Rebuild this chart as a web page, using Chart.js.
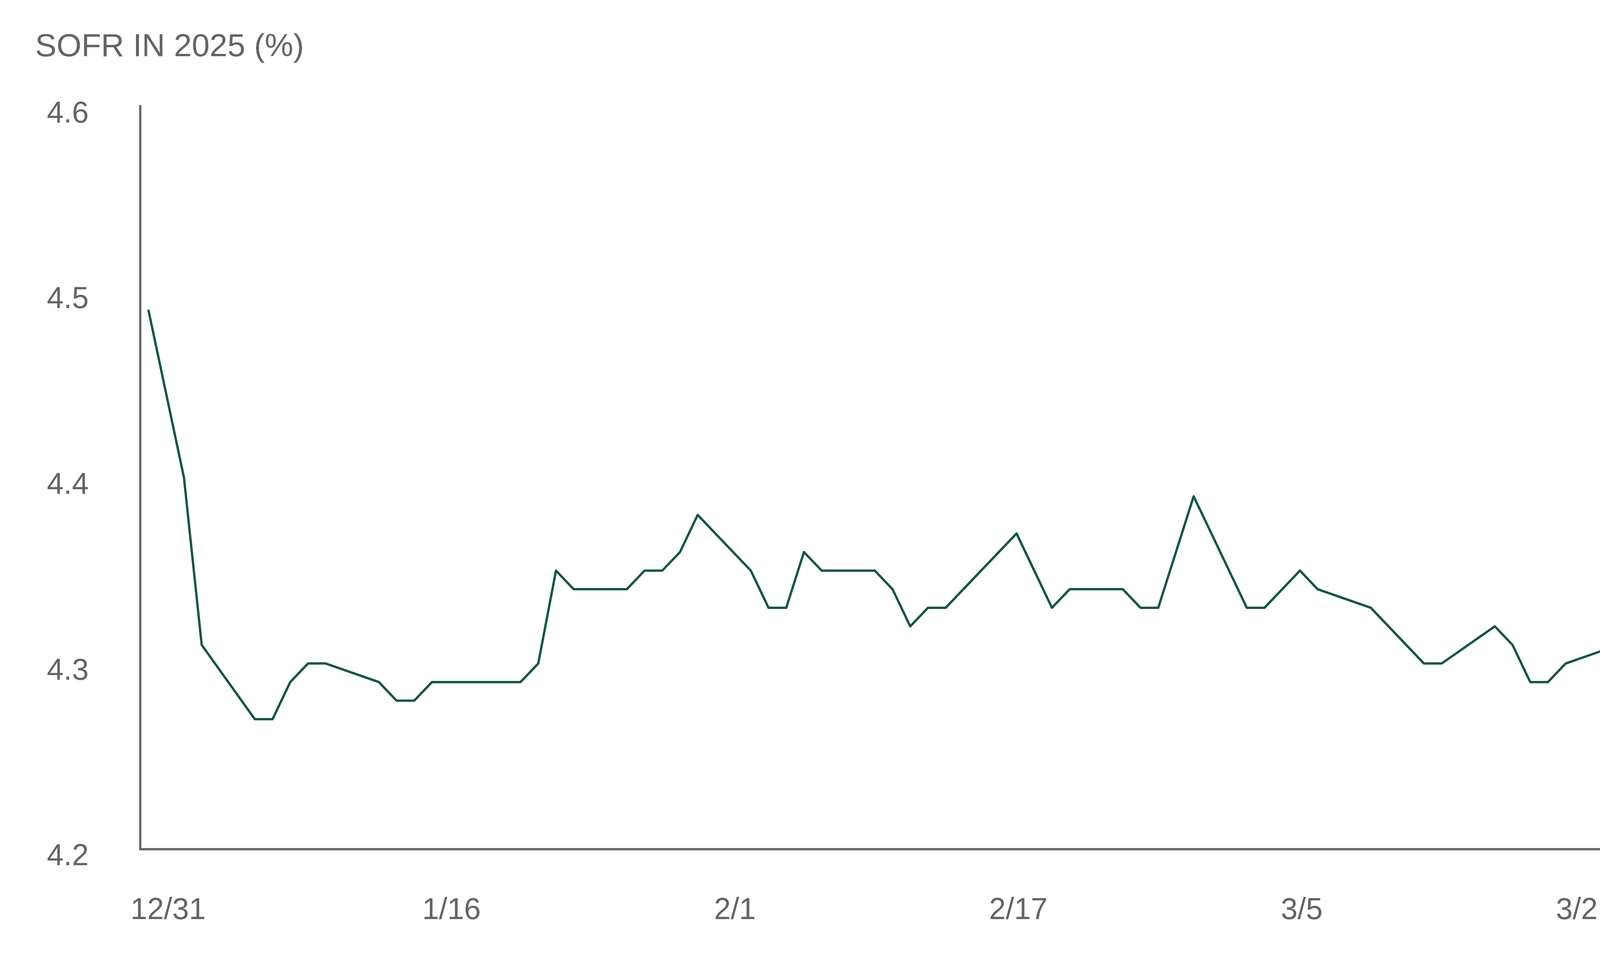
<!DOCTYPE html>
<html>
<head>
<meta charset="utf-8">
<script src="https://cdn.jsdelivr.net/npm/chart.js@4.4.1/dist/chart.umd.min.js"></script>
<style>
  html, body { margin: 0; padding: 0; background: #ffffff; }
  #wrap { width: 6244px; height: 2510px; position: relative; }
</style>
</head>
<body>
<div id="wrap"><canvas id="c"></canvas></div>
<script>
// ---- Data ----
const titleText = 'SOFR IN 2025 (%)';
const dates = [
  '2024-12-31','2025-01-02','2025-01-03','2025-01-06','2025-01-07','2025-01-08','2025-01-09','2025-01-10',
  '2025-01-13','2025-01-14','2025-01-15','2025-01-16','2025-01-17','2025-01-21','2025-01-22','2025-01-23',
  '2025-01-24','2025-01-27','2025-01-28','2025-01-29','2025-01-30','2025-01-31','2025-02-03','2025-02-04',
  '2025-02-05','2025-02-06','2025-02-07','2025-02-10','2025-02-11','2025-02-12','2025-02-13','2025-02-14',
  '2025-02-18','2025-02-20','2025-02-21','2025-02-24','2025-02-25','2025-02-26','2025-02-28','2025-03-03',
  '2025-03-04','2025-03-06','2025-03-07','2025-03-10','2025-03-13','2025-03-14','2025-03-17','2025-03-18',
  '2025-03-19','2025-03-20','2025-03-21','2025-03-24','2025-03-26','2025-03-27','2025-03-28','2025-03-31',
  '2025-04-02','2025-04-03','2025-04-04','2025-04-07','2025-04-08'
];
const sofr = [
  4.49,4.40,4.31,4.27,4.27,4.29,4.30,4.30,
  4.29,4.28,4.28,4.29,4.29,4.29,4.30,4.35,
  4.34,4.34,4.35,4.35,4.36,4.38,4.35,4.33,
  4.33,4.36,4.35,4.35,4.34,4.32,4.33,4.33,
  4.37,4.33,4.34,4.34,4.33,4.33,4.39,4.33,
  4.33,4.35,4.34,4.33,4.30,4.30,4.32,4.31,
  4.29,4.29,4.30,4.31,4.35,4.36,4.34,4.41,
  4.37,4.39,4.35,4.33,4.40
];
const tickDates = ['2024-12-31','2025-01-16','2025-02-01','2025-02-17','2025-03-05','2025-03-21','2025-04-06'];
const tickLabels = ['12/31','1/16','2/1','2/17','3/5','3/21','4/6'];
const yTicks = [4.2, 4.3, 4.4, 4.5, 4.6];

// ---- helpers ----
const DAY = 86400000;
const base = Date.UTC(2024, 11, 31);
function dayNum(s) {
  const p = s.split('-').map(Number);
  return (Date.UTC(p[0], p[1] - 1, p[2]) - base) / DAY;
}
const points = dates.map((d, i) => ({ x: dayNum(d), y: sofr[i] }));
const tickDays = tickDates.map(dayNum);

const GRAY = '#636466';
const AXIS = '#6a6a6a';
const FONT = '"Liberation Sans", Arial, sans-serif';

new Chart(document.getElementById('c'), {
  type: 'line',
  data: {
    datasets: [{
      data: points,
      borderColor: '#13573f',
      borderWidth: 6,
      pointRadius: 0,
      pointHoverRadius: 0,
      tension: 0,
      fill: false,
      borderJoinStyle: 'round',
      borderCapStyle: 'round'
    }]
  },
  options: {
    responsive: true,
    maintainAspectRatio: false,
    animation: false,
    devicePixelRatio: 1,
    layout: { padding: { left: 90, right: 1397, top: 0, bottom: 0 } },
    plugins: {
      legend: { display: false },
      tooltip: { enabled: false },
      title: {
        display: true,
        text: titleText,
        align: 'start',
        color: GRAY,
        font: { family: FONT, size: 82, weight: 'normal', lineHeight: 1.2 },
        padding: { top: 72, bottom: 102 }
      }
    },
    scales: {
      x: {
        type: 'linear',
        min: -0.47,
        max: 98.5,
        afterFit(scale) { scale.height = 335; },
        afterBuildTicks(scale) { scale.ticks = tickDays.map(v => ({ value: v })); },
        grid: { display: false, drawTicks: false },
        border: { display: true, color: AXIS, width: 6 },
        ticks: {
          autoSkip: false,
          maxRotation: 0,
          minRotation: 0,
          padding: 112,
          labelOffset: 50,
          color: GRAY,
          font: { family: FONT, size: 77 },
          callback: function (value) {
            const i = tickDays.indexOf(value);
            return i >= 0 ? tickLabels[i] : '';
          }
        }
      },
      y: {
        type: 'linear',
        min: yTicks[0],
        max: yTicks[yTicks.length - 1],
        afterFit(scale) { scale.width = 269; },
        afterBuildTicks(scale) { scale.ticks = yTicks.map(v => ({ value: v })); },
        grid: { display: false, drawTicks: false },
        border: { display: true, color: AXIS, width: 6 },
        ticks: {
          padding: 132,
          labelOffset: 20,
          color: GRAY,
          font: { family: FONT, size: 77 },
          callback: v => Number(v).toFixed(1)
        }
      }
    }
  }
});
</script>
</body>
</html>
